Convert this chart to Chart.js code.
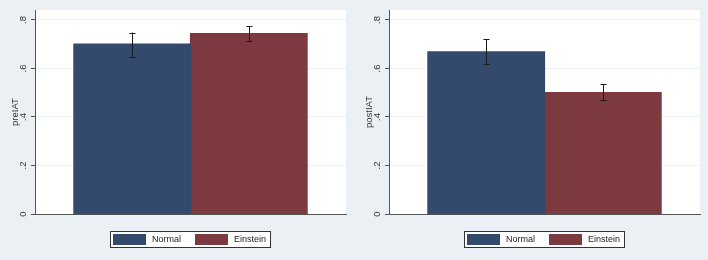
<!DOCTYPE html>
<html><head><meta charset="utf-8">
<script src="https://cdn.jsdelivr.net/npm/chart.js@4"></script>
<style>
html,body{margin:0;padding:0;background:#eaf0f3;}
#wrap{position:relative;width:708px;height:260px;overflow:hidden;background:#eaf0f3;}
.pane{position:absolute;top:0;width:354px;height:260px;}
</style></head><body>
<div id="wrap">
<div class="pane" style="left:0"><canvas id="c1" width="354" height="260"></canvas></div>
<div class="pane" style="left:354px"><canvas id="c2" width="354" height="260"></canvas></div>
</div>
<script>
const groups = ['Normal', 'Einstein'];
const preMeans = [0.700, 0.744];
const preLow = [0.649, 0.712];
const preHigh = [0.748, 0.775];
const postMeans = [0.668, 0.500];
const postLow = [0.619, 0.470];
const postHigh = [0.720, 0.535];
const yTickValues = [0, 0.2, 0.4, 0.6, 0.8];
const yTickLabels = ['0', '.2', '.4', '.6', '.8'];
const yMax = 0.841;
const panelTitles = ['preIAT', 'postIAT'];
const colors = ['#334a6c', '#7c3940'];

const FONT = 'Liberation Sans, Arial, sans-serif';

const bgPlugin = {
  id: 'bg',
  beforeDraw(chart) {
    const {ctx, chartArea: a} = chart;
    ctx.save();
    ctx.fillStyle = '#ffffff';
    ctx.fillRect(a.left, a.top, a.right - a.left, a.bottom - a.top);
    ctx.restore();
  }
};

const tickLabelPlugin = {
  id: 'ticklabels',
  afterDraw(chart) {
    const {ctx} = chart;
    const y = chart.scales.y;
    ctx.save();
    ctx.fillStyle = '#333333';
    ctx.font = '9.5px ' + FONT;
    ctx.textAlign = 'center';
    ctx.textBaseline = 'middle';
    yTickValues.forEach((v, i) => {
      const py = y.getPixelForValue(v);
      ctx.save();
      ctx.translate(y.right - 11.5, py);
      ctx.rotate(-Math.PI / 2);
      ctx.fillText(yTickLabels[i], 0, 0);
      ctx.restore();
    });
    ctx.restore();
  }
};

const errPlugin = {
  id: 'errbars',
  afterDatasetsDraw(chart) {
    const {ctx} = chart;
    const y = chart.scales.y;
    ctx.save();
    ctx.strokeStyle = '#1a1a1a';
    ctx.lineWidth = 1;
    chart.data.datasets.forEach((ds, i) => {
      const el = chart.getDatasetMeta(i).data[0];
      const x = Math.round(el.x) + 0.5;
      const y1 = y.getPixelForValue(ds.lo), y2 = y.getPixelForValue(ds.hi);
      ctx.beginPath();
      ctx.moveTo(x, y1); ctx.lineTo(x, y2);
      ctx.moveTo(x - 3, Math.round(y1) + 0.5); ctx.lineTo(x + 3, Math.round(y1) + 0.5);
      ctx.moveTo(x - 3, Math.round(y2) + 0.5); ctx.lineTo(x + 3, Math.round(y2) + 0.5);
      ctx.stroke();
    });
    ctx.restore();
  }
};

const legendPlugin = {
  id: 'boxlegend',
  afterDraw(chart) {
    const {ctx, chartArea: a} = chart;
    ctx.save();
    ctx.font = '9px ' + FONT;
    const pad = 3, sw = 33, gap = 6, itemGap = 14, padR = 4;
    const items = chart.data.datasets.map(ds => ({label: ds.label, color: ds.backgroundColor, w: ctx.measureText(ds.label).width}));
    let total = pad + padR;
    items.forEach((it, i) => { total += sw + gap + it.w + (i < items.length - 1 ? itemGap : 0); });
    const cx = (a.left + a.right) / 2;
    const top = a.bottom + 17, h = 16;
    const left = Math.round(cx - total / 2);
    ctx.fillStyle = '#ffffff';
    ctx.fillRect(left, top, total, h);
    ctx.strokeStyle = '#333333';
    ctx.lineWidth = 1;
    ctx.strokeRect(left + 0.5, top + 0.5, total, h);
    let x = left + pad;
    ctx.textBaseline = 'middle';
    ctx.textAlign = 'left';
    items.forEach((it, i) => {
      ctx.fillStyle = it.color;
      ctx.fillRect(x, top + 3, sw, 11);
      x += sw + gap;
      ctx.fillStyle = '#222222';
      ctx.fillText(it.label, x, top + h / 2 + 1);
      x += it.w + itemGap;
    });
    ctx.restore();
  }
};

function makeChart(id, title, means, lo, hi) {
  return new Chart(document.getElementById(id), {
    type: 'bar',
    data: {
      labels: [''],
      datasets: groups.map((g, i) => ({
        label: g, data: [means[i]], backgroundColor: colors[i], borderWidth: 0,
        inflateAmount: 0.6, lo: lo[i], hi: hi[i]
      }))
    },
    options: {
      responsive: false, animation: false, devicePixelRatio: 1,
      layout: {padding: {left: 0, right: 8, top: 10, bottom: 46}},
      plugins: {legend: {display: false}, tooltip: {enabled: false}},
      datasets: {bar: {categoryPercentage: 0.75, barPercentage: 1}},
      scales: {
        x: {
          display: true,
          grid: {display: false, drawTicks: false},
          border: {display: true, color: '#555555', width: 1},
          ticks: {display: false},
          afterFit(s) { s.height = 0; }
        },
        y: {
          min: 0, max: yMax,
          afterBuildTicks(s) { s.ticks = yTickValues.map(v => ({value: v})); },
          ticks: {display: false},
          grid: {color: '#eaf2f3', tickColor: '#555555', tickLength: 4, drawOnChartArea: true},
          border: {display: true, color: '#555555', width: 1},
          title: {display: true, text: title, color: '#333333', font: {family: FONT, size: 9.5}, padding: {top: 10, bottom: 0}},
          afterFit(s) { s.width = 35; }
        }
      }
    },
    plugins: [bgPlugin, errPlugin, tickLabelPlugin, legendPlugin]
  });
}

makeChart('c1', panelTitles[0], preMeans, preLow, preHigh);
makeChart('c2', panelTitles[1], postMeans, postLow, postHigh);
</script>
</body></html>
